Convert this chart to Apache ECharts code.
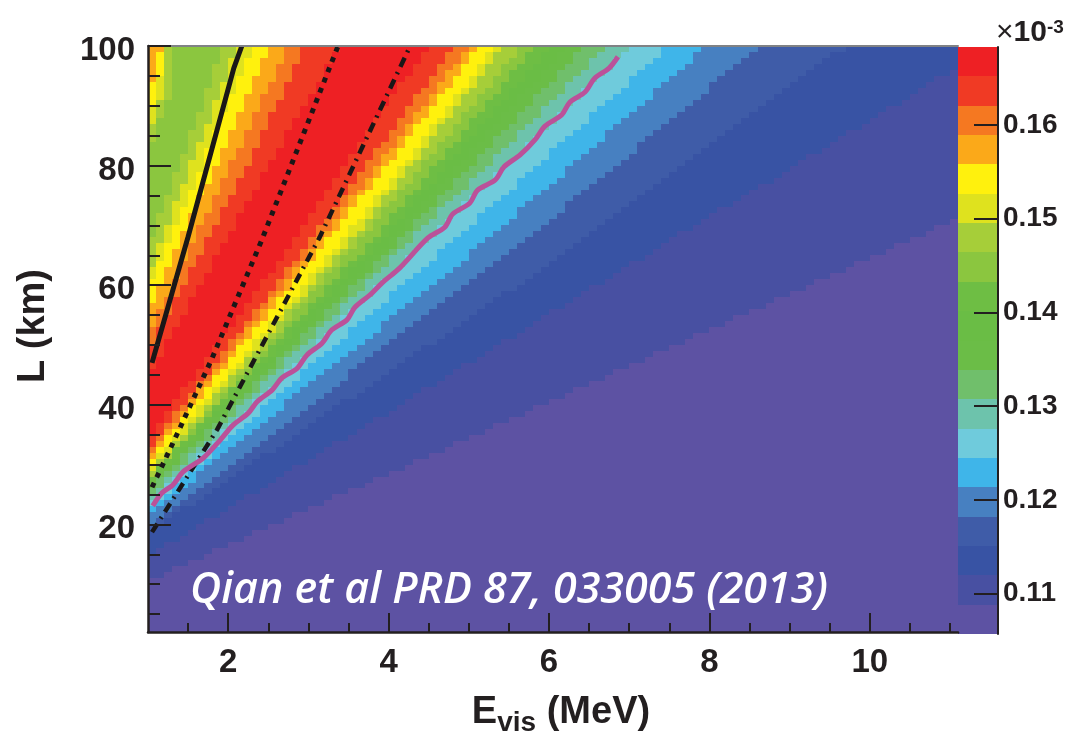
<!DOCTYPE html>
<html><head><meta charset="utf-8">
<style>html,body{margin:0;padding:0;background:#fff}#c{width:1066px;height:736px}</style>
<script src="https://cdn.jsdelivr.net/npm/echarts@6/dist/echarts.min.js"></script>
</head><body><div id="c"></div>
<script>
// Colour bands, lowest to highest
const bandColors = ['#5D52A3','#4850A2','#3853A4','#3F5CA8','#4780C1','#3FB5E9','#6FCBDC','#6DC3AC','#70BF6B','#6BBD47','#6ABD45','#6EBE44','#8BC63F','#A6CE39','#DFE21E','#FFF10D','#FBA919','#F57821','#F03A24','#EE2024'];
const zMin = 0.1057, zMax = 0.1683;
const eMin = 1, eBinWidth = 0.1, eBins = 101, lMin = 2, lMax = 100, lRows = 98;

// Contour positions: for each L row (first row given in *Starts), the E bin where the band changes.
// Upper-left corner: 16>15, 15>14, 14>13, 13>12
const cornerStarts = [92, 88, 85, 82];
const corner1 = [1,1,1,1,1,2];
const corner2 = [1,1,1,1,1,2,2,2,2,2];
const corner3 = [1,1,1,1,2,2,2,2,2,2,2,2,2];
const corner4 = [1,1,1,1,2,2,2,3,3,3,3,3,3,3,3,3];
// Rising side: 12>13 ... 18>19
const riseStarts = [64, 59, 57, 53, 49, 46, 43];
const rise1 = [0,0,1,1,1,1,2,2,2,3,3,3,3,4,4,4,5,5,5,5,6,6,6,7,7,7,7,8,8,8,8,9,9,9];
const rise2 = [0,0,1,1,1,1,2,2,2,3,3,3,3,4,4,4,5,5,5,5,6,6,6,7,7,7,8,8,8,8,9,9,9,10,10,10,10,11,11];
const rise3 = [0,0,1,1,1,2,2,2,3,3,3,4,4,4,5,5,5,6,6,6,7,7,7,7,8,8,8,9,9,9,10,10,10,11,11,11,12,12,12,13,13];
const rise4 = [0,0,1,1,1,2,2,2,3,3,3,4,4,4,5,5,5,6,6,6,7,7,8,8,8,9,9,9,10,10,10,11,11,11,12,12,12,13,13,13,14,14,14,15,15];
const rise5 = [0,0,1,1,1,2,2,3,3,3,4,4,4,5,5,5,6,6,6,7,7,8,8,8,9,9,9,10,10,10,11,11,12,12,12,13,13,13,14,14,14,15,15,16,16,16,17,17,17];
const rise6 = [0,0,1,1,1,2,2,3,3,3,4,4,5,5,5,6,6,7,7,7,8,8,9,9,9,10,10,11,11,11,12,12,13,13,13,14,14,14,15,15,15,16,16,17,17,17,18,18,18,19,19,19];
const rise7 = [0,1,1,2,2,2,3,3,4,4,5,5,5,6,6,7,7,8,8,8,9,9,10,10,11,11,11,12,12,13,13,14,14,14,15,15,16,16,17,17,17,18,18,19,19,20,20,21,21,22,22,22,23,23,24];
// Falling side: 19>18 ... 1>0
const fallStarts = [32,30,29,28,27,26,25,25,24,24,23,22,21,20,19,17,16,12,8];
const fall19 = [0,1,1,2,2,3,3,4,4,5,6,6,7,7,8,8,9,9,10,11,11,12,12,13,13,14,14,15,16,16,17,17,18,18,19,19,20,20,21,21,22,22,23,23,24,24,25,25,26,26,27,27,28,28,29,29,30,30,31,31,32,33,33,34,34,35];
const fall18 = [0,1,1,2,2,3,3,4,5,5,6,6,7,8,8,9,9,10,10,11,12,12,13,13,14,15,15,16,16,17,17,18,19,19,20,20,21,21,22,23,23,24,24,25,25,26,26,27,27,28,28,29,30,30,31,31,32,32,33,33,34,35,35,36,36,37,37,38];
const fall17 = [0,1,1,2,2,3,4,4,5,5,6,6,7,8,8,9,10,10,11,11,12,12,13,14,14,15,15,16,17,17,18,18,19,20,20,21,21,22,23,23,24,24,25,25,26,27,27,28,28,29,29,30,31,31,32,32,33,33,34,35,35,36,36,37,37,38,39,39,40];
const fall16 = [0,1,1,2,2,3,4,4,5,5,6,7,7,8,8,9,10,10,11,11,12,13,13,14,15,15,16,16,17,18,18,19,19,20,21,21,22,22,23,24,24,25,25,26,26,27,28,28,29,29,30,31,31,32,32,33,33,34,35,35,36,36,37,38,38,39,39,40,40,41];
const fall15 = [0,1,1,2,3,3,4,4,5,6,6,7,8,8,9,10,10,11,12,12,13,13,14,15,15,16,17,17,18,19,19,20,20,21,22,22,23,24,24,25,25,26,27,27,28,28,29,30,30,31,31,32,33,33,34,34,35,35,36,37,37,38,38,39,40,40,41,41,42,42,43];
const fall14 = [0,1,1,2,3,3,4,5,5,6,7,7,8,8,9,10,10,11,12,12,13,14,14,15,16,16,17,17,18,19,20,20,21,21,22,23,23,24,25,25,26,27,27,28,28,29,29,30,31,31,32,32,33,34,34,35,35,36,36,37,38,38,39,39,40,41,41,42,42,43,43,44];
const fall13 = [0,1,1,2,3,3,4,5,5,6,7,7,8,9,9,10,11,11,12,13,13,14,15,15,16,17,17,18,18,19,20,20,21,22,22,23,24,24,25,26,26,27,28,28,29,29,30,31,31,32,33,33,34,34,35,36,36,37,38,38,39,39,40,41,41,42,43,43,44,44,45,46,46];
const fall12 = [0,1,1,2,3,3,4,5,6,6,7,8,8,9,10,10,11,12,13,13,14,15,15,16,17,17,18,19,20,20,21,22,22,23,24,24,25,26,27,27,28,29,29,30,30,31,32,32,33,34,34,35,35,36,37,37,38,39,39,40,40,41,42,42,43,44,44,45,45,46,47,47,48];
const fall11 = [0,1,1,2,3,4,4,5,6,6,7,8,8,9,10,11,11,12,13,13,14,15,16,16,17,18,18,19,20,20,21,22,23,23,24,25,25,26,27,28,28,29,30,30,31,32,32,33,33,34,35,36,36,37,37,38,39,39,40,41,41,42,43,43,44,45,45,46,47,47,48,49,49,50];
const fall10 = [0,1,1,2,3,4,4,5,6,7,7,8,9,10,10,11,12,13,13,14,15,16,16,17,18,19,19,20,21,21,22,23,24,24,25,26,27,27,28,29,30,30,31,32,32,33,34,34,35,36,36,37,38,38,39,40,40,41,42,42,43,44,44,45,46,46,47,48,49,49,50,51,51,52];
const fall9 = [0,1,1,2,3,4,4,5,6,7,7,8,9,10,10,11,12,13,13,14,15,16,16,17,18,19,19,20,21,22,22,23,24,25,25,26,27,28,28,29,30,31,31,32,33,33,34,35,36,36,37,38,38,39,40,41,41,42,43,43,44,45,46,46,47,48,48,49,50,51,51,52,53,53,54];
const fall8 = [0,1,2,2,3,4,5,5,6,7,8,8,9,10,11,11,12,13,14,14,15,16,17,17,18,19,20,21,21,22,23,24,24,25,26,27,27,28,29,30,30,31,32,33,33,34,35,36,36,37,38,39,40,40,41,42,43,43,44,45,46,46,47,48,49,49,50,51,52,52,53,54,55,55,56,57];
const fall7 = [0,1,2,2,3,4,5,6,6,7,8,9,9,10,11,12,13,13,14,15,16,17,17,18,19,20,21,21,22,23,24,24,25,26,27,28,28,29,30,31,32,32,33,34,35,36,36,37,38,39,39,40,41,42,43,43,44,45,46,47,47,48,49,50,51,51,52,53,54,54,55,56,57,58,58,59,60];
const fall6 = [0,1,2,3,3,4,5,6,7,8,8,9,10,11,12,13,14,14,15,16,17,18,19,19,20,21,22,23,24,25,25,26,27,28,29,30,30,31,32,33,34,35,36,36,37,38,39,40,41,41,42,43,44,45,46,46,47,48,49,50,50,51,52,53,54,55,55,56,57,58,59,60,60,61,62,63,64,64];
const fall5 = [0,1,2,3,4,5,6,6,7,8,9,10,11,12,13,14,15,16,17,17,18,19,20,21,22,23,24,25,26,27,28,29,29,30,31,32,33,34,35,36,37,38,39,40,40,41,42,43,44,45,46,46,47,48,49,50,51,52,52,53,54,55,56,57,57,58,59,60,61,62,63,63,64,65,66,67,68,68,69];
const fall4 = [0,1,2,3,4,5,6,7,8,9,10,11,12,13,14,15,16,17,18,19,20,21,22,23,24,25,25,26,27,28,29,30,31,32,33,34,35,36,37,38,39,40,41,42,43,44,45,46,47,48,49,50,51,52,52,53,54,55,56,57,58,59,60,61,61,62,63,64,65,66,67,68,69,70,70,71,72,73,74,75,76];
const fall3 = [0,1,2,3,4,6,7,8,9,10,11,12,13,14,16,17,18,19,20,21,22,23,24,26,27,28,29,30,31,32,33,34,36,37,38,39,40,41,42,43,44,46,47,48,49,50,51,52,53,54,55,56,57,58,59,60,61,62,63,64,65,66,67,68,69,70,71,72,73,74,75,76,77,78,79,80,81,82,83,84,85,87];
const fall2 = [0,1,2,4,5,6,7,9,10,11,12,14,15,16,17,18,20,21,22,23,25,26,27,28,30,31,32,33,34,36,37,38,39,41,42,43,44,46,47,48,49,50,52,53,54,55,57,58,59,60,62,63,64,65,66,68,69,70,71,73,74,75,76,78,79,80,81,82,84,85,86,87,89,90,91,92,94,95,96,97,98,100,101,101,101,101];
const fall1 = [0,2,3,5,7,8,10,12,13,15,17,18,20,22,23,25,27,28,30,32,33,35,37,38,40,42,43,45,47,48,50,52,53,55,57,58,60,62,63,65,67,68,70,72,73,75,77,78,80,82,83,85,87,88,90,92,93,95,97,98,100,101];

// Order of bands from the left edge of a row to the right
const bandSequence = [16,15,14,13,12,13,14,15,16,17,18,19,18,17,16,15,14,13,12,11,10,9,8,7,6,5,4,3,2,1,0];
const allEdges = [corner1,corner2,corner3,corner4,rise1,rise2,rise3,rise4,rise5,rise6,rise7,fall19,fall18,fall17,fall16,fall15,fall14,fall13,fall12,fall11,fall10,fall9,fall8,fall7,fall6,fall5,fall4,fall3,fall2,fall1];
const allStarts = cornerStarts.concat(riseStarts, fallStarts);

// Overlaid curves
const solidE = [1.05,1.50,2.07,2.17];
const solidL = [47.0,68.1,96.3,100];
const dottedE = [1.05,1.37,1.80,2.42,3.37];
const dottedL = [26.2,35.3,47.8,67.6,100];
const dashE = [1.05,1.86,3.14,4.27];
const dashL = [18.7,35.8,68.0,100];
const pinkE = [1.06,1.17,1.31,1.44,1.69,1.90,2.06,2.25,2.36,2.55,2.67,2.86,2.98,3.17,3.29,3.48,3.58,3.77,3.92,4.14,4.49,4.70,4.80,5.01,5.11,5.33,5.44,5.64,5.83,5.95,6.16,6.26,6.45,6.57,6.75,6.86];
const pinkL = [23.1,25.2,26.6,28.8,31.1,34.1,36.6,38.6,40.5,42.5,44.5,46.1,48.3,50.3,52.5,54.2,56.3,58.4,60.4,62.9,67.9,69.7,71.9,73.7,75.9,77.6,79.8,81.8,84.4,86.6,88.5,90.6,92.3,94.6,96.3,98.2];

const eTicksMajor = [2,4,6,8,10];
const eTicksMinor = [1.5,2,2.5,3,3.5,4,4.5,5,5.5,6,6.5,7,7.5,8,8.5,9,9.5,10,10.5,11];
const lTicksMajor = [20,40,60,80,100];
const lTicksMinor = [5,10,15,20,25,30,35,40,45,50,55,60,65,70,75,80,85,90,95,100];
const zTicks = [0.11,0.12,0.13,0.14,0.15,0.16];

// Build rectangles, one for each run of equal band in a row
const cells = [];
for (let r = 0; r < lRows; r++) {
  let prev = 0;
  for (let i = 0; i < bandSequence.length; i++) {
    let end = eBins;
    if (i < allEdges.length) {
      const k = r - allStarts[i];
      end = k < 0 ? 0 : allEdges[i][Math.min(k, allEdges[i].length - 1)];
    }
    if (end > prev) {
      cells.push([eMin + prev * eBinWidth, eMin + end * eBinWidth, lMin + r, lMin + r + 1, bandSequence[i]]);
      prev = end;
    }
  }
}
const zStep = (zMax - zMin) / bandColors.length;
const barCells = bandColors.map((c, i) => [0, 1, zMin + i * zStep, zMin + (i + 1) * zStep, i]);

function rectItem(params, api) {
  const a = api.coord([api.value(0), api.value(3)]);
  const b = api.coord([api.value(1), api.value(2)]);
  const x = Math.round(a[0]), y = Math.round(a[1]);
  return {type:'rect', shape:{x:x, y:y, width:Math.round(b[0])-x, height:Math.round(b[1])-y},
    style:{fill:bandColors[api.value(4)]}};
}
const zip = (xs, ys) => xs.map((x, i) => [x, ys[i]]);
const ink = '#231F20';
const font = '"Liberation Sans", Arial, sans-serif';
const lab = {color:ink, fontFamily:font, fontWeight:'bold'};
const eMax = eMin + eBins * eBinWidth;

const chart = echarts.init(document.getElementById('c'), null, {renderer:'canvas'});
chart.setOption({
  animation:false, backgroundColor:'#fff',
  grid:[{left:148, top:46, width:810, height:586, outerBoundsMode:'none', containLabel:false},
        {left:958, top:47, width:40, height:587, outerBoundsMode:'none', containLabel:false}],
  xAxis:[
    {type:'value', gridIndex:0, min:eMin, max:eMax, z:10, position:'bottom', splitLine:{show:false},
      axisLine:{show:true, onZero:false, lineStyle:{color:ink, width:2.5}},
      axisTick:{show:true, inside:true, length:9, customValues:eTicksMinor, lineStyle:{color:ink, width:2}},
      axisLabel:{show:false}},
    {type:'value', gridIndex:0, min:eMin, max:eMax, z:10, position:'bottom', splitLine:{show:false},
      axisLine:{show:false, onZero:false},
      axisTick:{show:true, inside:true, length:19, customValues:eTicksMajor, lineStyle:{color:ink, width:2}},
      axisLabel:{show:true, customValues:eTicksMajor, margin:14, fontSize:33, ...lab},
      name:'{e|E}{s|vis}{e| (MeV)}', nameLocation:'middle', nameGap:57,
      nameTextStyle:{padding:[0,0,0,16], rich:{e:{fontSize:38, ...lab}, s:{fontSize:28, verticalAlign:'bottom', padding:[20,0,0,0], ...lab}}}},
    {type:'value', gridIndex:0, min:eMin, max:eMax, z:9, position:'top', splitLine:{show:false},
      axisLine:{show:true, onZero:false, lineStyle:{color:'#808285', width:2}}, axisTick:{show:false}, axisLabel:{show:false}},
    {type:'value', gridIndex:1, min:0, max:1, show:false}
  ],
  yAxis:[
    {type:'value', gridIndex:0, min:lMin, max:lMax, z:10, position:'left', splitLine:{show:false},
      axisLine:{show:true, onZero:false, lineStyle:{color:ink, width:2.5}},
      axisTick:{show:true, inside:true, length:12, customValues:lTicksMinor, lineStyle:{color:ink, width:2}},
      axisLabel:{show:false}},
    {type:'value', gridIndex:0, min:lMin, max:lMax, z:10, position:'left', splitLine:{show:false},
      axisLine:{show:false, onZero:false},
      axisTick:{show:true, inside:true, length:23, customValues:lTicksMajor, lineStyle:{color:ink, width:2}},
      axisLabel:{show:true, customValues:lTicksMajor, margin:13, fontSize:33, ...lab,
        formatter:v => '{a|' + v + '}', rich:{a:{fontSize:33, padding:[10,0,0,0], ...lab}}},
      name:'L (km)', nameLocation:'middle', nameGap:95, nameRotate:90,
      nameTextStyle:{fontSize:38, padding:[0,0,0,26], ...lab}},
    {type:'value', gridIndex:1, min:zMin, max:zMax, z:10, position:'right', splitLine:{show:false},
      axisLine:{show:true, onZero:false, lineStyle:{color:ink, width:2}},
      axisTick:{show:true, inside:true, length:24, customValues:zTicks, lineStyle:{color:ink, width:2}},
      axisLabel:{show:true, customValues:zTicks, margin:5, fontSize:28, formatter:v => v.toFixed(2), ...lab}}
  ],
  series:[
    {type:'custom', xAxisIndex:0, yAxisIndex:0, renderItem:rectItem, data:cells, encode:{x:[0,1], y:[2,3]}, silent:true, z:2},
    {type:'custom', xAxisIndex:3, yAxisIndex:2, renderItem:rectItem, data:barCells, encode:{x:[0,1], y:[2,3]}, silent:true, z:2},
    {type:'line', xAxisIndex:0, yAxisIndex:0, data:zip(solidE, solidL), showSymbol:false, z:3, lineStyle:{color:'#1A1718', width:5}},
    {type:'line', xAxisIndex:0, yAxisIndex:0, data:zip(dottedE, dottedL), showSymbol:false, z:3, lineStyle:{color:'#1A1718', width:5, type:[5,6]}},
    {type:'line', xAxisIndex:0, yAxisIndex:0, data:zip(dashE, dashL), showSymbol:false, z:3, lineStyle:{color:'#1A1718', width:4.5, type:[10,6,2,6]}},
    {type:'line', xAxisIndex:0, yAxisIndex:0, data:zip(pinkE, pinkL), showSymbol:false, smooth:0.3, z:4, lineStyle:{color:'#BB5199', width:5}}
  ],
  graphic:[
    {type:'text', z:20, left:190, top:569, style:{text:'Qian et al PRD 87, 033005 (2013)', fill:'#fff', font:'italic 600 43px "Open Sans", sans-serif'}},
    {type:'text', z:20, left:996, top:18, style:{
      text:'{t|\u00D7}{b|10}{u|-3}', rich:{
        t:{fontSize:30, fontFamily:font, fill:ink, fontWeight:'normal'},
        b:{fontSize:30, fontFamily:font, fill:ink, fontWeight:'bold'},
        u:{fontSize:19, fontFamily:font, fill:ink, fontWeight:'bold', verticalAlign:'top', padding:[0,0,10,0]}}}}
  ]
});
</script></body></html>
